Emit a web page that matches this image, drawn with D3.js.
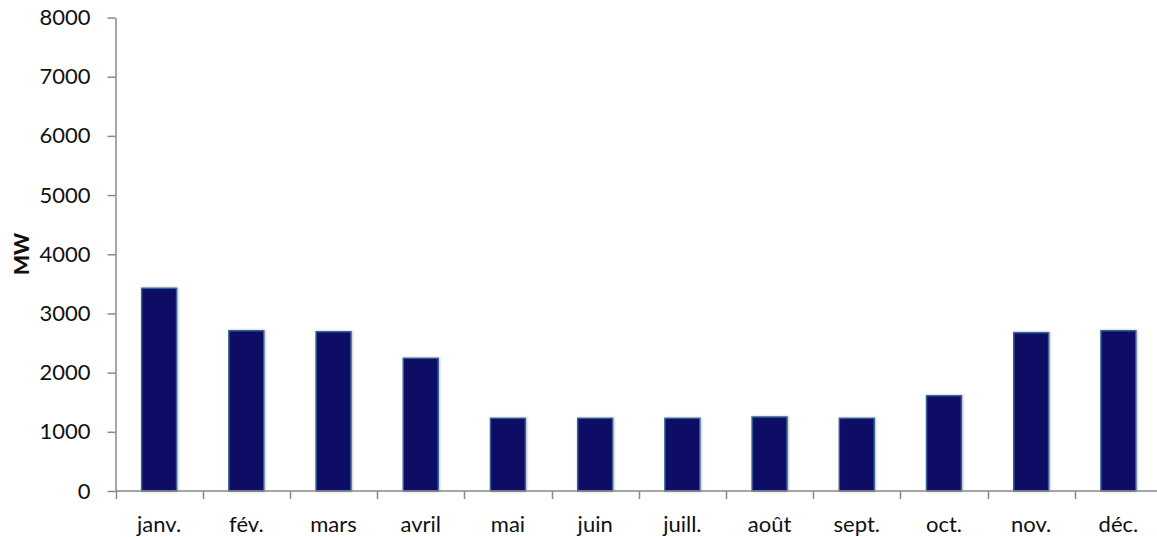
<!DOCTYPE html>
<html>
<head>
<meta charset="utf-8">
<script src="https://cdn.jsdelivr.net/npm/d3@7"></script>
<style>
  body { margin: 0; background: #fff; }
  svg text { font-family: Lato, "Open Sans", sans-serif; fill: #111; }
</style>
</head>
<body>
<div id="chart"></div>
<script>
// monthly values (MW)
var months = ["janv.", "fév.", "mars", "avril", "mai", "juin", "juill.", "août", "sept.", "oct.", "nov.", "déc."];
var values = [3425, 2708, 2691, 2242, 1228, 1228, 1228, 1250, 1228, 1610, 2675, 2708];
var yTicks = [0, 1000, 2000, 3000, 4000, 5000, 6000, 7000, 8000];

var width = 1157, height = 537;

var svg = d3.select("#chart").append("svg")
  .attr("width", width)
  .attr("height", height);

var x = d3.scaleBand()
  .domain(months)
  .range([115.5, 1162])
  .paddingInner(0.6)
  .paddingOuter(0.3);

var y = d3.scaleLinear()
  .domain([0, 8000])
  .range([491, 17.5]);

// y axis
var yAxis = svg.append("g")
  .attr("transform", "translate(115.5,0)")
  .call(d3.axisLeft(y).tickValues(yTicks).tickFormat(d3.format("d"))
    .tickSizeInner(8).tickSizeOuter(0).tickPadding(17));
yAxis.selectAll("text").style("font-size", "22px");

// bars (drawn before the x axis so the baseline sits on top)
var shadow = svg.append("defs").append("filter").attr("id", "sh")
  .attr("x", "-20%").attr("y", "-5%").attr("width", "140%").attr("height", "110%");
shadow.append("feDropShadow").attr("dx", 1).attr("dy", 0).attr("stdDeviation", 1.2)
  .attr("flood-color", "#000").attr("flood-opacity", 0.25);

svg.append("g").selectAll("rect")
  .data(values)
  .enter()
  .append("rect")
  .attr("x", (d, i) => x(months[i]))
  .attr("width", x.bandwidth())
  .attr("y", d => y(d))
  .attr("height", d => y(0) - y(d))
  .attr("fill", "#100b66")
  .attr("stroke", "#35608f")
  .attr("stroke-width", 1.5)
  .attr("filter", "url(#sh)");

// x axis: labels centred, ticks between categories
var xAxis = svg.append("g")
  .attr("transform", "translate(0,491)")
  .call(d3.axisBottom(x).tickSize(0).tickPadding(25));
xAxis.selectAll("text").style("font-size", "22px");
xAxis.select(".domain").attr("d", "M115.5,0H1157");

var gap = (x.step() - x.bandwidth()) / 2;
xAxis.selectAll("line.sep")
  .data(months)
  .enter()
  .append("line")
  .attr("class", "sep")
  .attr("x1", d => Math.round(x(d) - gap) + 0.5)
  .attr("x2", d => Math.round(x(d) - gap) + 0.5)
  .attr("y1", 0)
  .attr("y2", 8);

svg.selectAll(".domain, .tick line, line.sep")
  .attr("stroke", "#888")
  .attr("stroke-width", 1.5);

// y label
svg.append("text")
  .attr("transform", "translate(20,254) rotate(-90)")
  .attr("text-anchor", "middle")
  .attr("dominant-baseline", "central")
  .style("font-size", "21px")
  .style("font-weight", "900")
  .text("MW");
</script>
</body>
</html>
